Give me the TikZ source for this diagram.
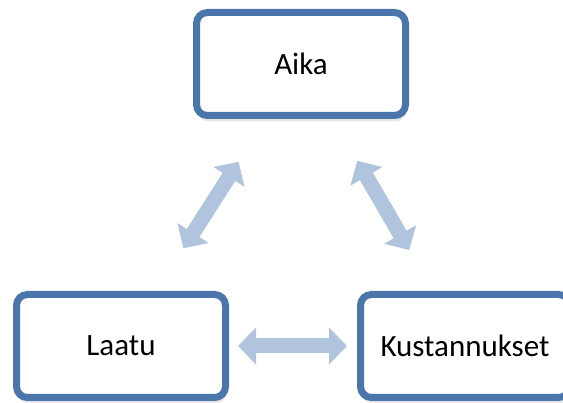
\documentclass[tikz,border=0pt]{standalone}
\usepackage{fontspec}
\setmainfont{Carlito}
\usetikzlibrary{arrows.meta,shadows}
\definecolor{reuna}{RGB}{74,118,172}
\definecolor{nuolisin}{RGB}{176,196,222}
\begin{document}
\begin{tikzpicture}[x=1pt,y=-1pt]
\tikzset{laatikko/.style={draw=reuna, line width=7pt, fill=white, rounded corners=11pt, minimum width=209pt, minimum height=103pt, font=\fontsize{31}{37}\selectfont, drop shadow={shadow xshift=1pt, shadow yshift=-6pt, opacity=0.2}}}
\tikzset{nuoli/.style={draw=nuolisin, line width=15pt, {Triangle[width=36pt,length=18pt]}-{Triangle[width=36pt,length=18pt]}}}
\useasboundingbox (0,0) rectangle (563,403);
\node[laatikko] (A) at (301,64) {Aika};
\node[laatikko] (L) at (121,346) {Laatu};
\node[laatikko] (K) at (465,346) {Kustannukset};
\draw[nuoli, shorten <=116pt, shorten >=116pt] (A.center) -- (L.center);
\draw[nuoli, shorten <=112pt, shorten >=111pt] (A.center) -- (K.center);
\draw[nuoli, shorten <=117pt, shorten >=118pt] (L.center) -- (K.center);
\end{tikzpicture}
\end{document}
